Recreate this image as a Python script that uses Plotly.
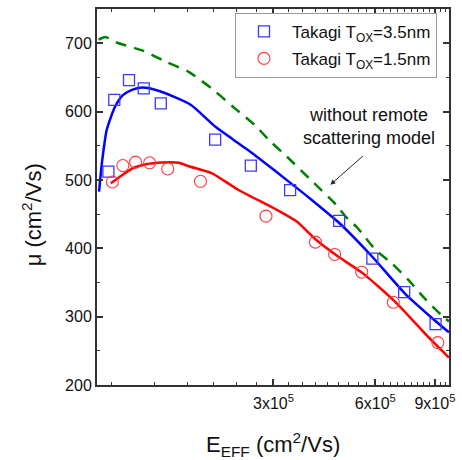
import math
import plotly.graph_objects as go

# ---- data ----
x_sq = [9.76e4, 1.016e5, 1.123e5, 1.241e5, 1.394e5, 2.018e5, 2.572e5, 3.36e5, 4.69e5, 5.88e5, 7.30e5, 9.04e5]
y_sq = [512, 617, 646, 634, 612, 559, 521, 485, 440, 385, 336, 289]

x_ci = [1.003e5, 1.077e5, 1.174e5, 1.292e5, 1.461e5, 1.826e5, 2.851e5, 3.99e5, 4.55e5, 5.47e5, 6.78e5, 9.18e5]
y_ci = [497, 521, 526, 525, 516, 498, 447, 409, 391, 365, 321, 262]

x_blue = [9.16e4, 9.34e4, 9.65e4, 1.021e5, 1.077e5, 1.151e5, 1.231e5, 1.379e5, 1.708e5, 2.018e5,
          2.517e5, 3.223e5, 3.886e5, 4.694e5, 5.868e5, 7.33e5, 8.96e5, 9.9e5]
y_blue = [483, 525, 573, 607, 624, 632, 635, 630, 610, 578, 544, 503, 471, 437, 388, 334, 295, 277]

x_red = [9.92e4, 1.15e5, 1.262e5, 1.41e5, 1.576e5, 1.685e5, 1.969e5, 2.353e5, 3.074e5, 3.515e5,
         4.017e5, 4.592e5, 5.49e5, 6.86e5, 8.57e5, 9.9e5]
y_red = [495, 517, 523, 525.5, 525, 520, 510, 486, 456, 439, 412, 390, 364, 322, 271, 240]

x_green = [9.13e4, 9.55e4, 1.032e5, 1.233e5, 1.442e5, 1.685e5, 1.992e5, 2.302e5, 2.632e5, 2.941e5,
           3.288e5, 3.886e5, 4.59e5, 4.91e5, 5.31e5, 6.0e5, 6.71e5, 7.5e5, 8.38e5, 9.37e5, 9.9e5]
y_green = [705, 709, 701, 689, 673, 658, 632, 605, 581, 556, 534, 499, 464, 446, 430, 398, 378, 354,
           327, 303, 293]

x_tickvals = [3e5, 6e5, 9e5]
x_ticktext = ["3x10<sup>5</sup>", "6x10<sup>5</sup>", "9x10<sup>5</sup>"]
x_minor = [k * 1e5 / 3 for k in range(3, 31) if k % 9 != 0]
y_tickvals = [200, 300, 400, 500, 600, 700]
y_minor = [250, 350, 450, 550, 650, 750]

legend_names = ["Takagi T<sub>OX</sub>=3.5nm", "Takagi T<sub>OX</sub>=1.5nm"]
note_text = "without remote<br>scattering model"

FONT = "Arial, Liberation Sans, sans-serif"

fig = go.Figure()
fig.add_trace(go.Scatter(x=x_green, y=y_green, mode="lines", showlegend=False,
                         line=dict(color="#008000", width=2.5, dash="11px,8px",
                                   shape="spline", smoothing=0.6)))
fig.add_trace(go.Scatter(x=x_blue, y=y_blue, mode="lines", showlegend=False,
                         line=dict(color="#0000ff", width=2.5, shape="spline", smoothing=0.6)))
fig.add_trace(go.Scatter(x=x_red, y=y_red, mode="lines", showlegend=False,
                         line=dict(color="#ff0000", width=2.5, shape="spline", smoothing=0.6)))
fig.add_trace(go.Scatter(x=x_sq, y=y_sq, mode="markers", name=legend_names[0], legendgroup="a",
                         marker=dict(symbol="square-open", size=11, color="#3a3aff",
                                     line=dict(width=1.3, color="#3a3aff"))))
fig.add_trace(go.Scatter(x=x_ci, y=y_ci, mode="markers", name=legend_names[1], legendgroup="b",
                         marker=dict(symbol="circle-open", size=12, color="#ff3a3a",
                                     line=dict(width=1.1, color="#ff3a3a"))))

axis_common = dict(showline=True, linewidth=2, linecolor="#333333", mirror="allticks",
                   ticks="inside", ticklen=6, tickwidth=1.5, tickcolor="#333333",
                   showgrid=False, zeroline=False,
                   tickfont=dict(family=FONT, size=16, color="#111111"))

fig.update_xaxes(type="log", range=[4.9558, 5.9958], tickmode="array",
                 tickvals=x_tickvals, ticktext=x_ticktext, ticklabelstandoff=3,
                 minor=dict(tickmode="array", tickvals=x_minor, ticks="inside", ticklen=3,
                            tickwidth=1.2, tickcolor="#333333", showgrid=False),
                 **axis_common)
fig.update_yaxes(range=[200, 750], tickmode="array", tickvals=y_tickvals,
                 minor=dict(tickmode="array", tickvals=y_minor, ticks="inside", ticklen=3,
                            tickwidth=1.2, tickcolor="#333333", showgrid=False),
                 **axis_common)

fig.add_annotation(xref="paper", yref="paper", x=0.5, y=-0.158, yanchor="middle",
                   text="E<sub>EFF</sub> (cm<sup>2</sup>/Vs)", showarrow=False,
                   font=dict(family=FONT, size=22, color="#111111"))
fig.add_annotation(xref="paper", yref="paper", x=-0.186, y=0.4526, textangle=-90,
                   xanchor="center", yanchor="middle",
                   text="μ (cm<sup>2</sup>/Vs)", showarrow=False,
                   font=dict(family=FONT, size=22, color="#111111"))
fig.add_annotation(x=math.log10(5.74e5), y=578, text=note_text, showarrow=False,
                   font=dict(family=FONT, size=18, color="#111111"))
fig.add_annotation(x=math.log10(4.42e5), y=493, text="", showarrow=True, arrowhead=2,
                   arrowsize=1, arrowwidth=1, arrowcolor="#222222", ax=34, ay=-30,
                   axref="pixel", ayref="pixel")

fig.update_layout(
    width=462, height=460,
    margin=dict(l=97, r=7, t=9, b=75),
    paper_bgcolor="white", plot_bgcolor="white",
    font=dict(family=FONT, color="#111111"),
    legend=dict(x=0.392, y=0.99, xanchor="left", yanchor="top",
                bordercolor="#999999", borderwidth=1, bgcolor="white",
                font=dict(family=FONT, size=17, color="#111111"),
                itemwidth=46, tracegroupgap=2),
)

fig.write_html("out.html")
